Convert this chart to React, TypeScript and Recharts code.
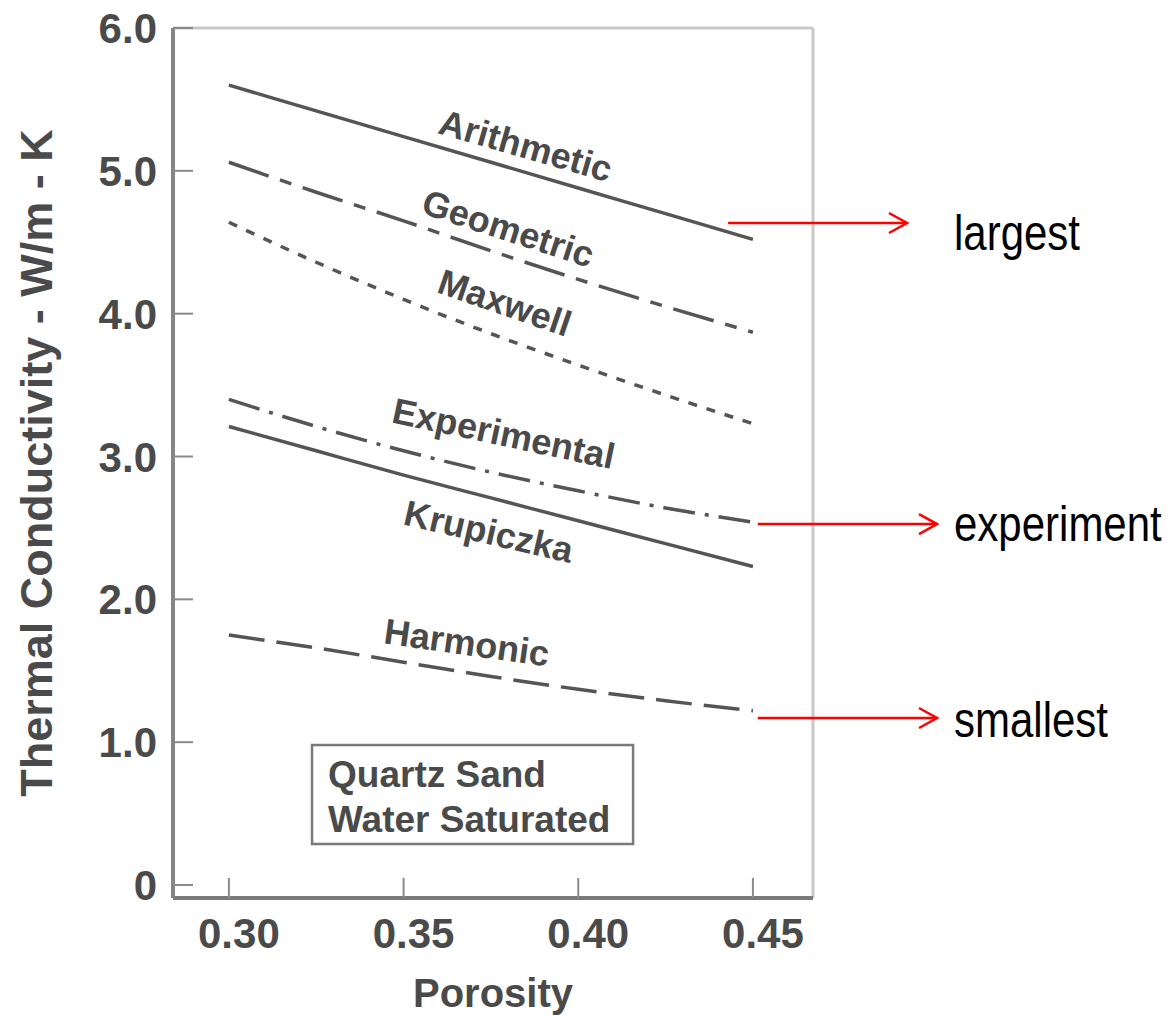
import React from "react";
import {
  LineChart,
  Line,
  XAxis,
  YAxis,
  ReferenceLine,
  ReferenceDot,
  ReferenceArea,
} from "recharts";

const porosity = [0.3, 0.325, 0.35, 0.375, 0.4, 0.425, 0.45];
const arithmetic = [5.6, 5.42, 5.24, 5.06, 4.88, 4.7, 4.52];
const geometric = [5.06, 4.85, 4.65, 4.44, 4.24, 4.05, 3.87];
const maxwell = [4.64, 4.36, 4.1, 3.86, 3.64, 3.43, 3.23];
const experimental = [3.4, 3.21, 3.04, 2.89, 2.76, 2.64, 2.54];
const krupiczka = [3.21, 3.04, 2.87, 2.71, 2.55, 2.39, 2.23];
const harmonic = [1.75, 1.66, 1.56, 1.46, 1.37, 1.29, 1.22];

const xTicks = [0.3, 0.35, 0.4, 0.45];
const yTicks = [0, 1, 2, 3, 4, 5, 6];
const yTickLabels = ["0", "1.0", "2.0", "3.0", "4.0", "5.0", "6.0"];

const X_DOMAIN: [number, number] = [0.284, 0.4672];
const Y_DOMAIN: [number, number] = [-0.091, 6];

// curve name labels: anchor in data coords + rotation
const curveLabels = [
  { text: "Arithmetic", x: 0.385, y: 5.18, angle: 16 },
  { text: "Geometric", x: 0.38, y: 4.6, angle: 18 },
  { text: "Maxwell", x: 0.379, y: 4.08, angle: 19 },
  { text: "Experimental", x: 0.3787, y: 3.165, angle: 12 },
  { text: "Krupiczka", x: 0.3744, y: 2.478, angle: 13 },
  { text: "Harmonic", x: 0.3681, y: 1.701, angle: 8 },
];

// red arrows pointing out of the plot
const arrows = [
  { text: "largest", y: 4.635, from: 0.4429, to: 0.4941, dx: 47, dy: 27 },
  { text: "experiment", y: 2.527, from: 0.4514, to: 0.5027, dx: 17, dy: 17 },
  { text: "smallest", y: 1.169, from: 0.4514, to: 0.5027, dx: 17, dy: 19 },
];

const boxLines = ["Quartz Sand", "Water Saturated"];

const rows = porosity.map((p, i) => ({
  porosity: p,
  arithmetic: arithmetic[i],
  geometric: geometric[i],
  maxwell: maxwell[i],
  experimental: experimental[i],
  krupiczka: krupiczka[i],
  harmonic: harmonic[i],
}));

const FONT = "'Liberation Sans', Arial, Helvetica, sans-serif";
const INK = "#4a4a4a";
const LINE = "#555";

const YTick = (props: any) => {
  const { x, y, payload } = props;
  const idx = yTicks.indexOf(payload.value);
  return (
    <g>
      <line x1={x} x2={x + 20} y1={y} y2={y} stroke="#8a8a8a" strokeWidth={2} />
      <text
        x={x - 16}
        y={y + 15}
        textAnchor="end"
        fontFamily={FONT}
        fontSize={42}
        fontWeight="bold"
        fill={INK}
      >
        {yTickLabels[idx]}
      </text>
    </g>
  );
};

const XTick = (props: any) => {
  const { x, y, payload } = props;
  return (
    <g>
      <line x1={x} x2={x} y1={y} y2={y - 20} stroke="#8a8a8a" strokeWidth={2} />
      <text
        x={x + 10}
        y={y + 50}
        textAnchor="middle"
        fontFamily={FONT}
        fontSize={42}
        fontWeight="bold"
        fill={INK}
      >
        {payload.value.toFixed(2)}
      </text>
    </g>
  );
};

const YTitle = (props: any) => {
  const vb = props.viewBox || {};
  const cy = (vb.y ?? 28) + (vb.height ?? 870) / 2;
  return (
    <text
      transform={`translate(52, ${cy}) rotate(-90)`}
      textAnchor="middle"
      fontFamily={FONT}
      fontSize={45}
      fontWeight="bold"
      fill={INK}
    >
      Thermal Conductivity - W/m - K
    </text>
  );
};

const XTitle = (props: any) => {
  const vb = props.viewBox || {};
  const cx = (vb.x ?? 173) + (vb.width ?? 640) / 2;
  return (
    <text
      x={cx}
      y={(vb.y ?? 898) + 109}
      textAnchor="middle"
      fontFamily={FONT}
      fontSize={40}
      fontWeight="bold"
      fill={INK}
    >
      Porosity
    </text>
  );
};

export default function App() {
  return (
    <div style={{ position: "absolute", left: 0, top: 0, background: "#fff" }}>
      <LineChart
        width={1171}
        height={1015}
        data={rows}
        margin={{ top: 28, right: 358, bottom: 0, left: 0 }}
      >
        <XAxis
          dataKey="porosity"
          type="number"
          domain={X_DOMAIN}
          ticks={xTicks}
          allowDataOverflow
          height={117}
          tickSize={0}
          tickMargin={0}
          tickLine={false}
          axisLine={{ stroke: "#7a7a7a", strokeWidth: 4 }}
          tick={(p: any) => <XTick {...p} />}
          label={(p: any) => <XTitle {...p} />}
        />
        <YAxis
          type="number"
          domain={Y_DOMAIN}
          ticks={yTicks}
          allowDataOverflow
          width={173}
          tickSize={0}
          tickMargin={0}
          tickLine={false}
          axisLine={{ stroke: "#858585", strokeWidth: 4 }}
          tick={(p: any) => <YTick {...p} />}
          label={(p: any) => <YTitle {...p} />}
        />
        <ReferenceLine y={Y_DOMAIN[1]} stroke="#c8c8c8" strokeWidth={3} />
        <ReferenceLine x={X_DOMAIN[1]} stroke="#c8c8c8" strokeWidth={3} />

        <Line dataKey="arithmetic" type="monotone" stroke={LINE} strokeWidth={3.5} dot={false} isAnimationActive={false} />
        <Line dataKey="geometric" type="monotone" stroke={LINE} strokeWidth={3.5} strokeDasharray="42 12 12 12" dot={false} isAnimationActive={false} />
        <Line dataKey="maxwell" type="monotone" stroke={LINE} strokeWidth={3.5} strokeDasharray="9 10" dot={false} isAnimationActive={false} />
        <Line dataKey="experimental" type="monotone" stroke={LINE} strokeWidth={3.5} strokeDasharray="32 10 4 10" dot={false} isAnimationActive={false} />
        <Line dataKey="krupiczka" type="monotone" stroke={LINE} strokeWidth={3.5} dot={false} isAnimationActive={false} />
        <Line dataKey="harmonic" type="monotone" stroke={LINE} strokeWidth={3.5} strokeDasharray="36 12" dot={false} isAnimationActive={false} />

        {curveLabels.map((c) => (
          <ReferenceDot
            key={c.text}
            x={c.x}
            y={c.y}
            r={0}
            ifOverflow="visible"
            shape={(p: any) => (
              <text
                transform={`translate(${p.cx}, ${p.cy}) rotate(${c.angle})`}
                textAnchor="middle"
                dy={13}
                fontFamily={FONT}
                fontSize={36}
                fontWeight="bold"
                fill={INK}
              >
                {c.text}
              </text>
            )}
          />
        ))}

        <ReferenceArea
          x1={0.3238}
          x2={0.4157}
          y1={0.287}
          y2={0.98}
          ifOverflow="visible"
          shape={(p: any) => (
            <g>
              <rect x={p.x} y={p.y} width={p.width} height={p.height} fill="#fff" stroke="#7a7a7a" strokeWidth={2.5} />
              {boxLines.map((t, i) => (
                <text
                  key={t}
                  x={p.x + 16}
                  y={p.y + 42 + i * 45}
                  fontFamily={FONT}
                  fontSize={37}
                  fontWeight="bold"
                  fill={INK}
                >
                  {t}
                </text>
              ))}
            </g>
          )}
        />

        {arrows.map((a) => (
          <ReferenceLine
            key={a.text}
            segment={[
              { x: a.from, y: a.y },
              { x: a.to, y: a.y },
            ]}
            ifOverflow="visible"
            shape={(p: any) => (
              <g>
                <line x1={p.x1} y1={p.y1} x2={p.x2} y2={p.y2} stroke="#ff0000" strokeWidth={2.5} />
                <polyline
                  points={`${p.x2 - 18},${p.y2 - 10} ${p.x2},${p.y2} ${p.x2 - 18},${p.y2 + 10}`}
                  fill="none"
                  stroke="#ff0000"
                  strokeWidth={2.5}
                />
                <text
                  transform={`translate(${p.x2 + a.dx}, ${p.y2 + a.dy}) scale(1, 1.18)`}
                  fontFamily={FONT}
                  fontSize={42}
                  fill="#000"
                >
                  {a.text}
                </text>
              </g>
            )}
          />
        ))}
      </LineChart>
    </div>
  );
}
